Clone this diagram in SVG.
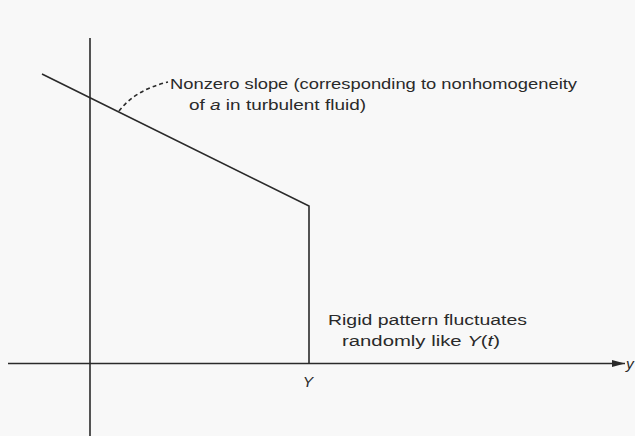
<svg xmlns="http://www.w3.org/2000/svg" width="635" height="436" viewBox="0 0 635 436">
<style>
.ln{stroke:#2a2a2a;stroke-width:1.6;fill:none}
.t{font-family:"Liberation Sans",Arial,sans-serif;font-size:15.5px;fill:#2a2a2a}
.i{font-style:italic}
</style>
<defs>
<marker id="ah" markerWidth="14" markerHeight="8" refX="13" refY="4" orient="auto" markerUnits="userSpaceOnUse">
<path d="M0,0.5 L13,4 L0,7.5 Z" fill="#2a2a2a"/>
</marker>
</defs>
<rect width="635" height="436" fill="#f8f8f8"/>
<g id="connectors">
<line id="y-axis" class="ln" x1="90" y1="38" x2="90" y2="436"/>
<line id="x-axis" class="ln" x1="8" y1="363.5" x2="625" y2="363.5" marker-end="url(#ah)"/>
<polyline id="profile" class="ln" points="42,74 309,206 309,363.5"/>
<path id="leader" class="ln" d="M119,111 Q135,90 168,82" stroke-dasharray="4,3" stroke-width="1.2"/>
</g>
<g id="label-slope">
<text class="t" x="170" y="89" textLength="407" lengthAdjust="spacingAndGlyphs">Nonzero slope (corresponding to nonhomogeneity</text>
<text class="t" x="189" y="110" textLength="177" lengthAdjust="spacingAndGlyphs">of <tspan class="i">a</tspan> in turbulent fluid)</text>
</g>
<g id="label-rigid">
<text class="t" x="328" y="325" textLength="199" lengthAdjust="spacingAndGlyphs">Rigid pattern fluctuates</text>
<text class="t" x="342" y="346" textLength="158" lengthAdjust="spacingAndGlyphs">randomly like <tspan class="i">Y</tspan>(<tspan class="i">t</tspan>)</text>
</g>
<g id="label-Y">
<text class="t i" x="308" y="387" text-anchor="middle">Y</text>
</g>
<g id="label-y">
<text class="t i" x="626" y="369">y</text>
</g>
</svg>
